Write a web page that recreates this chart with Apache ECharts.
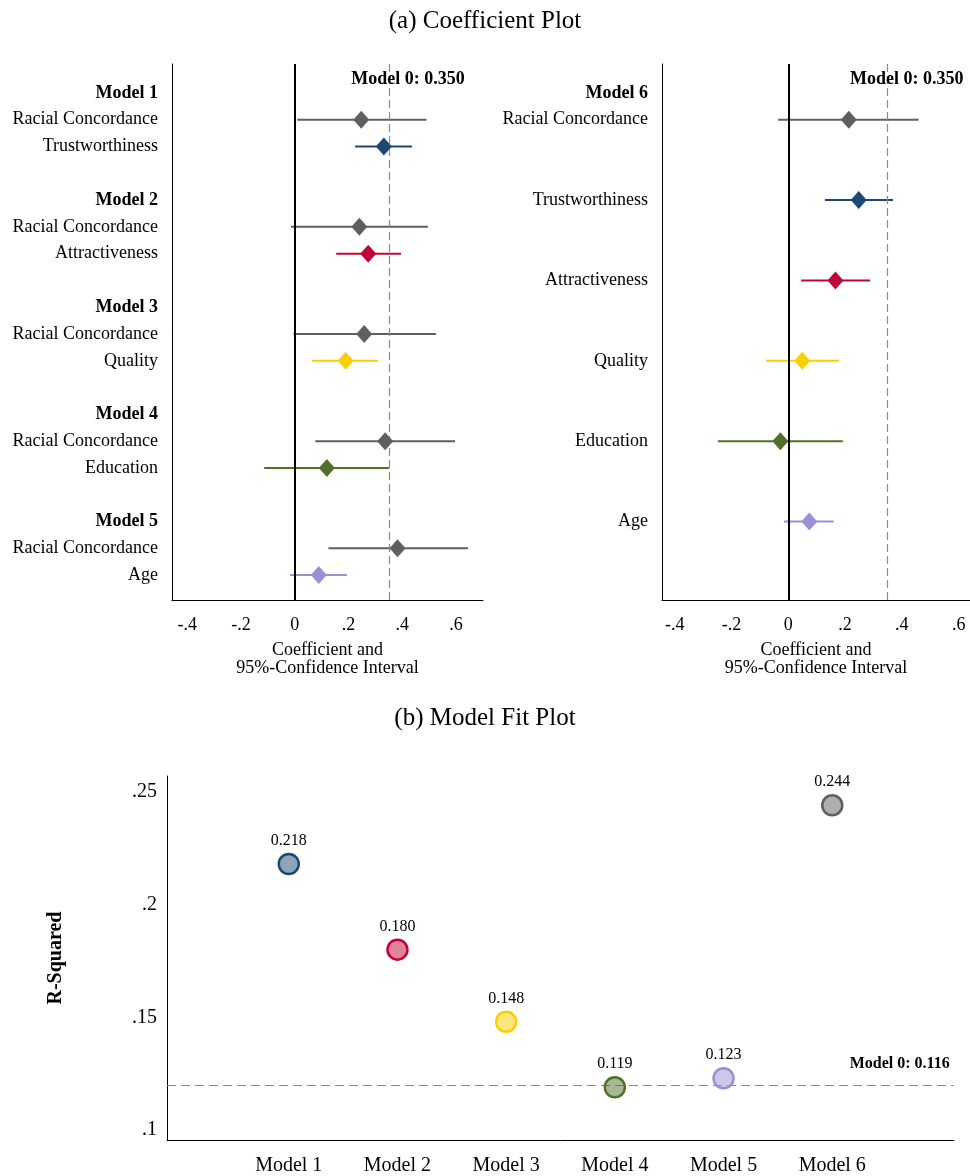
<!DOCTYPE html>
<html>
<head>
<meta charset="utf-8">
<script src="https://cdn.jsdelivr.net/npm/echarts@6/dist/echarts.min.js"></script>
<style>
html,body{margin:0;padding:0;background:#fff;}
#chart{width:970px;height:1176px;}
</style>
</head>
<body>
<div id="chart"></div>
<script>
// ---------- data ----------
const FONT = 'Liberation Serif';

// Left coefficient panel (Models 1-5)
const leftLabelRows = [0,1,2,4,5,6,8,9,10,12,13,14,16,17,18];
const leftLabels = ['Model 1','Racial Concordance','Trustworthiness',
                    'Model 2','Racial Concordance','Attractiveness',
                    'Model 3','Racial Concordance','Quality',
                    'Model 4','Racial Concordance','Education',
                    'Model 5','Racial Concordance','Age'];
const leftVars = ['Racial Concordance','Trustworthiness','Racial Concordance','Attractiveness',
                  'Racial Concordance','Quality','Racial Concordance','Education',
                  'Racial Concordance','Age'];
const leftRows = [1,2,5,6,9,10,13,14,17,18];
const leftCoef = [0.247,0.331,0.240,0.273,0.258,0.189,0.336,0.119,0.382,0.089];
const leftLo   = [0.009,0.224,-0.014,0.154,-0.005,0.064,0.076,-0.114,0.125,-0.018];
const leftHi   = [0.490,0.436,0.495,0.395,0.525,0.309,0.596,0.351,0.644,0.194];

// Right coefficient panel (Model 6)
const rightLabelRows = [0,1,4,7,10,13,16];
const rightLabels = ['Model 6','Racial Concordance','Trustworthiness','Attractiveness','Quality','Education','Age'];
const rightVars = ['Racial Concordance','Trustworthiness','Attractiveness','Quality','Education','Age'];
const rightRows = [1,4,7,10,13,16];
const rightCoef = [0.213,0.248,0.166,0.049,-0.028,0.074];
const rightLo   = [-0.036,0.129,0.045,-0.078,-0.248,-0.015];
const rightHi   = [0.459,0.369,0.288,0.178,0.192,0.160];

const coefBaseline = 0.350;
const coefTicks = [-0.4,-0.2,0,0.2,0.4,0.6];

// Model fit panel
const models = ['Model 1','Model 2','Model 3','Model 4','Model 5','Model 6'];
const modelPos = [1,2,3,4,5,6];
const rSquared = [0.218,0.180,0.148,0.119,0.123,0.244];
const r2Baseline = 0.116;
const r2Ticks = [0.1,0.15,0.2,0.25];

// ---------- styles ----------
const varColor = {
  'Racial Concordance':'#5f5f5f',
  'Trustworthiness':'#1c4872',
  'Attractiveness':'#c20536',
  'Quality':'#fad000',
  'Education':'#4f7129',
  'Age':'#9891d4'
};
const modelColor = ['#1c4872','#c20536','#fad000','#4f7129','#9891d4','#5f5f5f'];

function hexA(hex,a){
  const n=parseInt(hex.slice(1),16);
  return `rgba(${(n>>16)&255},${(n>>8)&255},${n&255},${a})`;
}
const coefFmt = v => Math.abs(v)<1e-9 ? '0' : (v<0?'-':'') + Math.abs(v).toFixed(1).replace(/^0/,'');
const r2Fmt = v => v.toFixed(2).replace(/0$/,'').replace(/^0/,'');

function rowFormatter(rows, labels){
  return function(v){
    for(let i=0;i<rows.length;i++){
      if(Math.abs(rows[i]-v)<1e-6){
        const t=labels[i];
        return /^Model/.test(t) ? '{b|'+t+'}' : '{n|'+t+'}';
      }
    }
    return '';
  };
}

const axisLineStyle = {color:'#000', width:1};

function coefXAxis(gi, min, max){
  return {
    type:'value', gridIndex:gi, min:min, max:max,
    axisLine:{show:true, onZero:false, lineStyle:axisLineStyle},
    axisTick:{show:false},
    splitLine:{show:false},
    axisLabel:{customValues:coefTicks, formatter:coefFmt, fontFamily:FONT, fontSize:18, color:'#000', margin:16},
    name:'Coefficient and\n95%-Confidence Interval',
    nameLocation:'middle', nameGap:41,
    nameTextStyle:{fontFamily:FONT, fontSize:18, color:'#000', lineHeight:18, verticalAlign:'top'}
  };
}
function coefYAxis(gi, rows, labels){
  return {
    type:'value', gridIndex:gi, min:-1.08, max:18.93, inverse:true,
    axisLine:{show:true, onZero:false, lineStyle:axisLineStyle},
    axisTick:{show:false},
    splitLine:{show:false},
    axisLabel:{
      customValues:rows, formatter:rowFormatter(rows, labels), margin:14,
      rich:{
        b:{fontFamily:FONT, fontSize:18, fontWeight:'bold', color:'#000'},
        n:{fontFamily:FONT, fontSize:18, color:'#000'}
      }
    }
  };
}

function errorSeries(gi, lo, hi, rows, vars){
  return {
    type:'custom', xAxisIndex:gi, yAxisIndex:gi, z:2,
    data: lo.map((l,i)=>[l, hi[i], rows[i]]),
    encode:{x:[0,1], y:2},
    renderItem:function(params, api){
      const a = api.coord([api.value(0), api.value(2)]);
      const b = api.coord([api.value(1), api.value(2)]);
      return {type:'line', shape:{x1:a[0],y1:a[1],x2:b[0],y2:b[1]},
              style:{stroke:varColor[vars[params.dataIndex]], lineWidth:2}};
    },
    markLine:{
      silent:true, symbol:['none','none'], label:{show:false},
      data:[
        {xAxis:0, lineStyle:{color:'#000', width:2, type:'solid'}},
        {xAxis:coefBaseline, lineStyle:{color:'#8a8a8a', width:1.2, type:[8,4]}}
      ]
    }
  };
}
function pointSeries(gi, coef, rows, vars){
  return {
    type:'scatter', xAxisIndex:gi, yAxisIndex:gi, z:5,
    symbol:'diamond', symbolSize:[16,18],
    itemStyle:{opacity:1},
    data: coef.map((c,i)=>({value:[c, rows[i]], itemStyle:{color:varColor[vars[i]], opacity:1}}))
  };
}
function baseLabelSeries(gi){
  return {
    type:'scatter', xAxisIndex:gi, yAxisIndex:gi, symbolSize:0, silent:true, z:6,
    itemStyle:{opacity:1},
    data:[[coefBaseline, -0.49]],
    label:{show:true, position:'inside', offset:[19,0], formatter:'Model 0: '+coefBaseline.toFixed(3),
           fontFamily:FONT, fontSize:18, fontWeight:'bold', color:'#000'}
  };
}

const option = {
  backgroundColor:'#fff',
  animation:false,
  title:[
    {text:'(a) Coefficient Plot', left:'center', top:4,
     textStyle:{fontFamily:FONT, fontSize:25, fontWeight:'normal', color:'#000'}},
    {text:'(b) Model Fit Plot', left:'center', top:701,
     textStyle:{fontFamily:FONT, fontSize:25, fontWeight:'normal', color:'#000'}}
  ],
  grid:[
    {left:172, top:64, width:311, height:536, outerBoundsMode:'none'},
    {left:662, top:64, width:308, height:536, outerBoundsMode:'none'},
    {left:167, top:776, width:787, height:364, outerBoundsMode:'none'}
  ],
  xAxis:[
    coefXAxis(0, -0.457, 0.70),
    coefXAxis(1, -0.445, 0.64),
    {
      type:'value', gridIndex:2, min:-0.12, max:7.12,
      axisLine:{show:true, onZero:false, lineStyle:axisLineStyle},
      axisTick:{show:false}, splitLine:{show:false},
      axisLabel:{customValues:modelPos, formatter:v=>models[Math.round(v)-1]||'',
                 fontFamily:FONT, fontSize:20, color:'#000', margin:16}
    }
  ],
  yAxis:[
    coefYAxis(0, leftLabelRows, leftLabels),
    coefYAxis(1, rightLabelRows, rightLabels),
    {
      type:'value', gridIndex:2, min:0.0956, max:0.257,
      axisLine:{show:true, onZero:false, lineStyle:axisLineStyle},
      axisTick:{show:false}, splitLine:{show:false},
      axisLabel:{customValues:r2Ticks, formatter:r2Fmt, fontFamily:FONT, fontSize:20, color:'#000', margin:10},
      name:'R-Squared', nameLocation:'middle', nameGap:101, nameRotate:90,
      nameTextStyle:{fontFamily:FONT, fontSize:20, fontWeight:'bold', color:'#000'}
    }
  ],
  series:[
    errorSeries(0, leftLo, leftHi, leftRows, leftVars),
    pointSeries(0, leftCoef, leftRows, leftVars),
    baseLabelSeries(0),
    errorSeries(1, rightLo, rightHi, rightRows, rightVars),
    pointSeries(1, rightCoef, rightRows, rightVars),
    baseLabelSeries(1),
    {
      type:'scatter', xAxisIndex:2, yAxisIndex:2, z:5,
      symbol:'circle', symbolSize:20,
      itemStyle:{opacity:1},
      data: rSquared.map((r,i)=>({value:[modelPos[i], r],
        itemStyle:{color:hexA(modelColor[i],0.5), borderColor:modelColor[i], borderWidth:2.5, opacity:1}})),
      label:{show:true, position:'top', distance:4, formatter:p=>p.value[1].toFixed(3),
             fontFamily:FONT, fontSize:16, color:'#000'},
      markLine:{
        silent:true, symbol:['none','none'], label:{show:false},
        data:[{yAxis:r2Baseline, lineStyle:{color:'#8a8a8a', width:1.2, type:[9,5]}}]
      }
    },
    {
      type:'scatter', xAxisIndex:2, yAxisIndex:2, symbolSize:0, silent:true, z:6,
      itemStyle:{opacity:1},
      data:[[7.08, r2Baseline]],
      label:{show:true, position:'inside', align:'right', offset:[0,-30],
             formatter:'Model 0: '+r2Baseline.toFixed(3),
             fontFamily:FONT, fontSize:16, fontWeight:'bold', color:'#000'}
    }
  ]
};

const chart = echarts.init(document.getElementById('chart'), null, {renderer:'canvas'});
chart.setOption(option);
</script>
</body>
</html>
